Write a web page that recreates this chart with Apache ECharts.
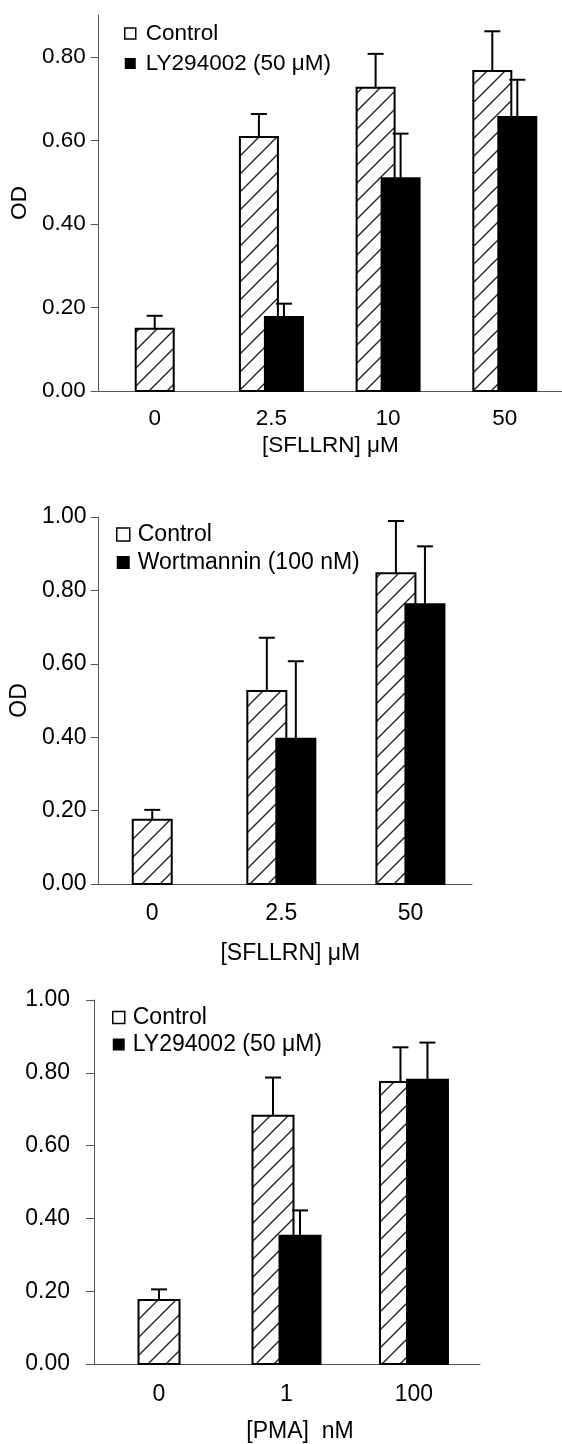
<!DOCTYPE html>
<html>
<head>
<meta charset="utf-8">
<title>OD bars</title>
<style>
  html, body { margin: 0; padding: 0; background: #fff; }
  #chart { width: 562px; height: 1444px; }
</style>
</head>
<body>
<div id="chart"></div>
<script src="https://cdn.jsdelivr.net/npm/echarts/dist/echarts.min.js"></script>
<script>
// panel A: SFLLRN +/- LY294002
var catsA = ['0', '2.5', '10', '50'];
var ctrlA = [0.149, 0.608, 0.726, 0.766];
var ctrlErrA = [0.031, 0.055, 0.081, 0.095];
var lyA = [null, 0.177, 0.509, 0.656];
var lyErrA = [null, 0.032, 0.107, 0.089];

// panel B: SFLLRN +/- wortmannin
var catsB = ['0', '2.5', '50'];
var ctrlB = [0.175, 0.526, 0.847];
var ctrlErrB = [0.027, 0.145, 0.142];
var wortB = [null, 0.396, 0.762];
var wortErrB = [null, 0.211, 0.158];

// panel C: PMA +/- LY294002
var catsC = ['0', '1', '100'];
var ctrlC = [0.176, 0.682, 0.775];
var ctrlErrC = [0.029, 0.105, 0.095];
var lyC = [null, 0.352, 0.781];
var lyErrC = [null, 0.070, 0.102];

var ticksA = [0, 0.2, 0.4, 0.6, 0.8];

var FONT = '"Liberation Sans", Arial, Helvetica, sans-serif';

// diagonal hatch for the control bars
var hatch = document.createElement('canvas');
hatch.width = 18;
hatch.height = 18;
var hc = hatch.getContext('2d');
hc.fillStyle = '#fff';
hc.fillRect(0, 0, 18, 18);
hc.strokeStyle = '#222';
hc.lineWidth = 1.4;
hc.beginPath();
hc.moveTo(0, 18); hc.lineTo(18, 0);
hc.moveTo(-4, 4); hc.lineTo(4, -4);
hc.moveTo(14, 22); hc.lineTo(22, 14);
hc.stroke();
var hatchFill = { image: hatch, repeat: 'repeat' };

function toItems(vals, errs) {
    var out = [];
    for (var i = 0; i < vals.length; i++) {
        if (vals[i] != null) out.push([i, vals[i], errs[i]]);
    }
    return out;
}

// bar + upward error bar; bars shift apart only where the group has both
function barRender(pairs, side, barW, gap, hatched) {
    return function (params, api) {
        var i = api.value(0);
        var v = api.value(1);
        var e = api.value(2);
        var p0 = api.coord([i, 0]);
        var p1 = api.coord([i, v]);
        var p2 = api.coord([i, v + e]);
        var cx = p0[0] + (pairs[i] != null ? side * gap / 2 : 0);
        return {
            type: 'group',
            children: [
                { type: 'line', shape: { x1: cx, y1: p1[1], x2: cx, y2: p2[1] }, style: { stroke: '#000', lineWidth: 2 } },
                { type: 'line', shape: { x1: cx - 8, y1: p2[1], x2: cx + 8, y2: p2[1] }, style: { stroke: '#000', lineWidth: 2 } },
                { type: 'rect', shape: { x: cx - barW / 2, y: p1[1], width: barW, height: p0[1] - p1[1] },
                  style: { fill: hatched ? hatchFill : '#000', stroke: '#000', lineWidth: 2 } }
            ]
        };
    };
}

function xAx(idx, cats, min, max, name, margin, gap, pad, fs) {
    return {
        type: 'value', gridIndex: idx, min: min, max: max,
        axisLine: { show: true, onZero: false, lineStyle: { color: '#555', width: 1 } },
        axisTick: { show: false },
        splitLine: { show: false },
        axisLabel: {
            customValues: cats.map(function (c, i) { return i; }),
            formatter: function (v) { return cats[Math.round(v)]; },
            margin: margin, fontSize: fs, color: '#000', fontFamily: FONT
        },
        name: name, nameLocation: 'middle', nameGap: gap,
        nameTextStyle: { fontSize: fs, color: '#000', fontFamily: FONT, padding: pad }
    };
}

function yAx(idx, max, margin, fs, name, custom) {
    var ax = {
        type: 'value', gridIndex: idx, min: 0, max: max, interval: 0.2,
        axisLine: { show: true, onZero: false, lineStyle: { color: '#555', width: 1 } },
        axisTick: { show: true, length: 8, lineStyle: { color: '#555' } },
        splitLine: { show: false },
        axisLabel: {
            formatter: function (v) { return v.toFixed(2); },
            margin: margin, fontSize: fs, color: '#000', fontFamily: FONT
        },
        name: name, nameLocation: 'middle', nameGap: 64, nameRotate: 90,
        nameTextStyle: { fontSize: fs, color: '#000', fontFamily: FONT }
    };
    if (custom) {
        ax.axisTick.customValues = custom;
        ax.axisLabel.customValues = custom;
    }
    return ax;
}

function legendAt(left, top, size, gap, fs, pad, names) {
    return {
        orient: 'vertical', left: left, top: top, icon: 'rect', padding: 0,
        itemWidth: size, itemHeight: size, itemGap: gap, selectedMode: false,
        textStyle: { fontSize: fs, color: '#000', fontFamily: FONT, padding: [0, 0, 0, pad] },
        data: [
            { name: names[0], itemStyle: { color: '#fff', borderColor: '#000', borderWidth: 1.5 } },
            { name: names[1], itemStyle: { color: '#000', borderWidth: 0 } }
        ]
    };
}

function barSeries(name, idx, items, pairs, side, barW, gap, hatched) {
    return {
        name: name, type: 'custom', xAxisIndex: idx, yAxisIndex: idx,
        renderItem: barRender(pairs, side, barW, gap, hatched),
        encode: { x: 0, y: 1 },
        itemStyle: { color: hatched ? '#fff' : '#000' },
        clip: false,
        data: items
    };
}

var chart = echarts.init(document.getElementById('chart'));
chart.setOption({
    animation: false,
    backgroundColor: '#fff',
    grid: [
        { left: 96, top: 15, width: 466, height: 376 },
        { left: 96, top: 517, width: 376, height: 367 },
        { left: 94, top: 1000, width: 386, height: 365 }
    ],
    xAxis: [
        xAx(0, catsA, -0.48, 3.49, '[SFLLRN] μM', 16, 43, [0, 0, 0, 0], 22.5),
        xAx(1, catsB, -0.415, 2.477, '[SFLLRN] μM', 18, 58, [0, 0, 0, 10], 23),
        xAx(2, catsC, -0.51, 2.518, '[PMA]  nM', 19, 56, [0, 0, 0, 26], 23)
    ],
    yAxis: [
        yAx(0, 0.9, 13, 22.5, 'OD', ticksA),
        yAx(1, 1.0, 12, 23, 'OD', null),
        yAx(2, 1.0, 24, 23, '', null)
    ],
    legend: [
        legendAt(124, 22, 11, 7, 22.5, 5, ['Control', 'LY294002 (50 μM)']),
        legendAt(116, 523, 13, 5, 23, 3, ['Control', 'Wortmannin (100 nM)']),
        legendAt(112, 1006, 12, 4, 23, 3, ['Control', 'LY294002 (50 μM)'])
    ],
    series: [
        barSeries('Control', 0, toItems(ctrlA, ctrlErrA), lyA, -1, 38, 25, true),
        barSeries('LY294002 (50 μM)', 0, toItems(lyA, lyErrA), lyA, 1, 38, 25, false),
        barSeries('Control', 1, toItems(ctrlB, ctrlErrB), wortB, -1, 39, 29, true),
        barSeries('Wortmannin (100 nM)', 1, toItems(wortB, wortErrB), wortB, 1, 39, 29, false),
        barSeries('Control', 2, toItems(ctrlC, ctrlErrC), lyC, -1, 41, 27, true),
        barSeries('LY294002 (50 μM)', 2, toItems(lyC, lyErrC), lyC, 1, 41, 27, false)
    ]
});
</script>
</body>
</html>
